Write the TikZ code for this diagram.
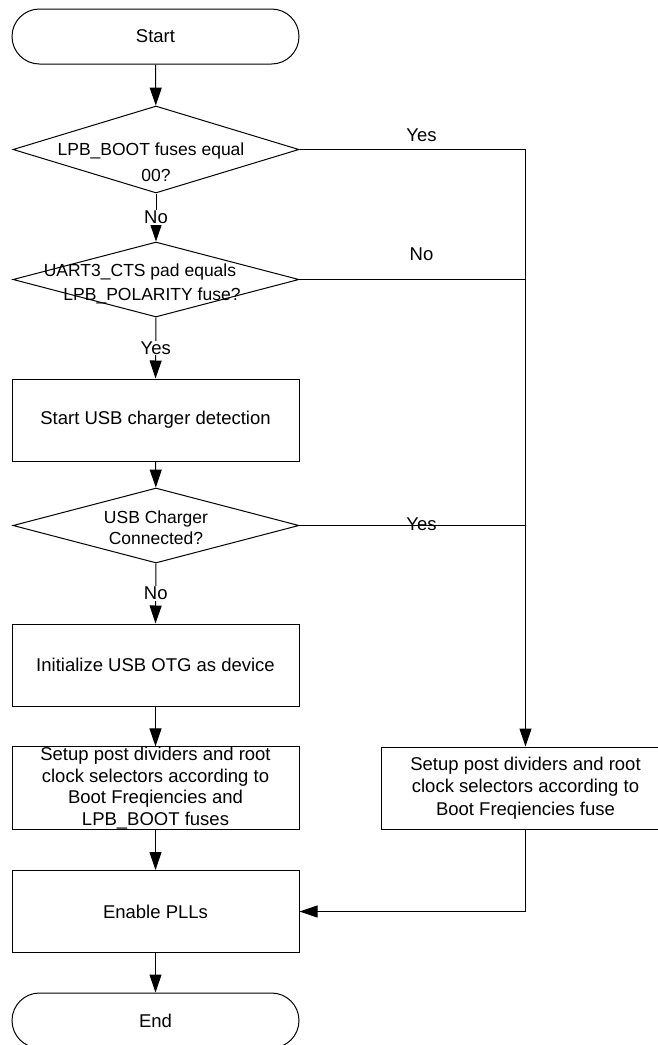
\documentclass[tikz,border=0pt]{standalone}
\usepackage{fontspec}
\setmainfont{Liberation Sans}
\usetikzlibrary{shapes.geometric,arrows.meta}
\begin{document}
\begin{tikzpicture}[x=1pt,y=-1pt,
  line width=1pt,
  every node/.style={font=\fontsize{18.5}{22}\selectfont},
  term/.style={draw, rectangle, rounded corners=27.5pt, minimum width=287pt, minimum height=55pt, inner sep=0pt},
  procbox/.style={draw, rectangle, minimum width=287pt, minimum height=82pt, inner sep=0pt, align=center},
  decision/.style={draw, diamond, minimum width=286pt, minimum height=#1, inner sep=0pt},
  dtext/.style={font=\fontsize{17.5}{21}\selectfont, inner sep=0pt, align=center},
  lbl/.style={inner sep=0pt},
  flow/.style={-{Triangle[length=18pt,width=12pt]}},
]
\useasboundingbox (0,0) rectangle (657,1045);

% main column
\node[term] (start) at (155.5,36.5) {Start};
\node[decision=87pt] (d1) at (156,149.5) {};
\node[dtext] (d1a) at (151,151) {LPB\_BOOT fuses equal};
\node[dtext] (d1b) at (156,175) {00?};
\node[decision=75pt] (d2) at (156,279.5) {};
\node[dtext] (d2a) at (140,272) {UART3\_CTS pad equals};
\node[dtext] (d2b) at (152,296) {LPB\_POLARITY fuse?};
\node[procbox] (chg) at (155.5,420) {Start USB charger detection};
\node[decision=75pt] (d3) at (156,525.5) {};
\node[dtext] (d3t) at (156,528) {USB Charger\\Connected?};
\node[procbox] (otg) at (155.5,665) {Initialize USB OTG as device};
\node[procbox, font=\fontsize{18.5}{21.7}\selectfont] (setl) at (155.5,788) {Setup post dividers and root\\clock selectors according to\\Boot Freqiencies and\\LPB\_BOOT fuses};
\node[procbox] (pll) at (155.5,911.5) {Enable PLLs};
\node[term] (end) at (155.5,1020.5) {End};

% right column
\node[procbox, minimum width=289pt, font=\fontsize{18.5}{22.5}\selectfont] (setr) at (525.5,788) {Setup post dividers and root\\clock selectors according to\\Boot Freqiencies fuse};
\coordinate (j1) at (525.5,149.5);
\coordinate (j2) at (525.5,279.5);
\coordinate (j3) at (525.5,525.5);

% connectors
\draw[flow] (start) -- (d1);
\draw[flow] (d1.south) -- node[lbl, fill=white, inner sep=1pt] {No} (d2.north);
\draw[flow] (d2.south) -- node[lbl, fill=white, inner sep=1pt] {Yes} (chg.north);
\draw[flow] (chg) -- (d3);
\draw[flow] (d3.south) -- node[lbl, fill=white, inner sep=1pt] {No} (otg.north);
\draw[flow] (otg) -- (setl);
\draw[flow] (setl) -- (pll);
\draw[flow] (pll) -- (end);

\draw (d1.east) -- node[lbl, pos=0.54, above=7pt] {Yes} (j1);
\draw (d2.east) -- node[lbl, pos=0.54, above=18pt] {No} (j2);
\draw (d3.east) -- node[lbl, pos=0.54, yshift=1pt] {Yes} (j3);
\draw[flow] (j1) -- (setr.north);
\draw[flow] (setr.south) |- (pll.east);
\end{tikzpicture}
\end{document}
